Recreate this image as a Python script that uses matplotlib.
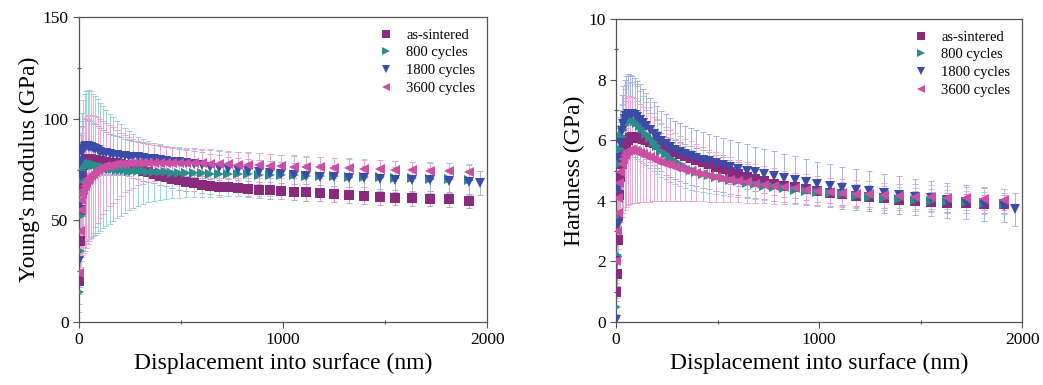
import matplotlib
matplotlib.use("Agg")
import matplotlib.pyplot as plt

plt.rcParams['font.family'] = ['Liberation Serif', 'DejaVu Serif']

# depth grid (nm)
depth = [2, 5, 8, 12, 17, 22, 28, 35, 42, 50,
         59, 69, 80, 92, 105, 119, 134, 150, 167, 185,
         204, 224, 245, 267, 290, 314, 340, 367, 396, 426,
         458, 491, 526, 563, 602, 643, 686, 731, 778, 828,
         880, 935, 992, 1052, 1115, 1180, 1248, 1321, 1395, 1473,
         1550, 1632, 1722, 1812, 1910]
depth_1800 = depth + [1967]

labels = ['as-sintered', '800 cycles', '1800 cycles', '3600 cycles']

# Young's modulus (GPa)
E_sint = [20, 40, 55, 66, 73, 77, 79, 80, 80, 80,
          80, 79.8, 79.5, 79.3, 79, 78.8, 78.6, 78.4, 78.2, 78,
          77.6, 77.2, 76.6, 76, 75.2, 74.4, 73.6, 72.8, 72, 71.2,
          70.4, 69.6, 68.9, 68.2, 67.6, 67.0, 66.6, 66.2, 65.8, 65.5,
          65.1, 64.7, 64.3, 64.0, 63.7, 63.5, 62.8, 62.5, 62.2, 61.6,
          61.2, 60.8, 60.6, 60.3, 59.6]
E_sint_err = [6, 7, 8, 8, 8, 8, 8, 8, 7.5, 7.5,
              7, 7, 7, 6.5, 6.5, 6, 6, 6, 5.5, 5.5,
              5.5, 5, 5, 5, 5, 5, 4.5, 4.5, 4.5, 4.5,
              4.5, 4.5, 4.5, 4, 4, 4, 4, 4, 4, 4,
              4, 4, 4, 4, 4, 4, 4, 4, 4, 4,
              3.8, 3.8, 3.6, 3.6, 3.5]

E_800 = [15, 35, 52, 63, 70, 74, 76, 77, 77.5, 77.5,
         77.5, 77.2, 77, 76.6, 76.3, 76, 75.7, 75.4, 75.2, 75,
         74.8, 74.6, 74.4, 74.3, 74.2, 74.1, 74, 73.9, 73.8, 73.6,
         73.5, 73.4, 73.3, 73.2, 73.1, 73, 72.9, 72.8, 72.7, 72.6,
         72.5, 72.4, 72.3, 72.2, 72.0, 71.9, 71.7, 71.5, 71.3, 71.1,
         70.9, 70.7, 70.5, 70.2, 70.0]
E_800_err = [10, 18, 25, 30, 33, 35, 36, 36.5, 36.5, 36.5,
             36, 35, 34, 33, 31.5, 30, 28.5, 27, 25.5, 24,
             22.5, 21, 19.5, 18, 17, 16, 15, 14.2, 13.6, 13,
             12.6, 12.2, 12, 11.8, 11.6, 11.4, 11.2, 11, 10.8, 10.6,
             10.4, 10.2, 10, 9.8, 9.6, 9.4, 9.2, 9, 8.8, 8.6,
             8.4, 8.2, 8, 7.8, 7.6]

E_1800 = [30, 58, 72, 79, 83, 85, 86, 86.5, 86.5, 86.3,
          86, 85.5, 85, 84.4, 83.8, 83.3, 82.9, 82.5, 82.2, 82,
          81.8, 81.6, 81.4, 81.2, 81, 80.7, 80.4, 80.1, 79.7, 79.3,
          78.9, 78.5, 78.1, 77.6, 77.1, 76.4, 75.8, 75.2, 74.7, 74.2,
          73.8, 73.2, 72.6, 72.2, 71.8, 71.5, 71.2, 70.9, 70.6, 70.3,
          70.0, 69.8, 69.6, 69.3, 69.0, 68.5]
E_1800_err = [8, 10, 12, 13, 13.5, 14, 14, 13.8, 13.5, 13.2,
              13, 12.6, 12.2, 11.8, 11.4, 11, 10.6, 10.2, 9.8, 9.4,
              9, 8.6, 8.3, 8, 7.7, 7.4, 7.2, 7, 6.8, 6.6,
              6.5, 6.5, 6.4, 6.4, 6.3, 6.3, 6.2, 6.2, 6.2, 6.1,
              6.1, 6.1, 6, 6, 6, 6, 6, 6, 6, 6,
              6, 6, 6, 6, 6, 6]

E_3600 = [24, 45, 55, 60, 63, 65, 67, 68.5, 70, 71,
          72, 73, 74, 74.8, 75.5, 76, 76.5, 76.9, 77.2, 77.5,
          77.7, 77.9, 78.0, 78.1, 78.2, 78.2, 78.3, 78.3, 78.3, 78.3,
          78.3, 78.2, 78.2, 78.1, 78.0, 77.9, 77.8, 77.6, 77.4, 77.2,
          77.0, 76.8, 76.6, 76.4, 76.2, 76.0, 75.8, 75.6, 75.4, 75.2,
          75.0, 74.7, 74.4, 74.1, 73.6]
E_3600_err = [15, 20, 25, 28, 30, 31, 32, 32, 31.5, 31,
              30, 29, 27.5, 26, 24.5, 23, 21.5, 20, 18.5, 17,
              15.5, 14.2, 13, 12, 11, 10.2, 9.5, 9, 8.6, 8.3,
              8, 7.8, 7.6, 7.4, 7.2, 7, 6.8, 6.6, 6.4, 6.2,
              6, 5.8, 5.6, 5.4, 5.2, 5, 4.8, 4.6, 4.4, 4.3,
              4.2, 4.1, 4, 3.9, 3.8]

# Hardness (GPa)
H_sint = [1.0, 1.6, 2.7, 3.5, 4.2, 4.8, 5.2, 5.5, 5.75, 5.9,
          6.0, 6.08, 6.12, 6.12, 6.1, 6.08, 6.05, 6.0, 5.95, 5.9,
          5.84, 5.78, 5.72, 5.66, 5.6, 5.54, 5.48, 5.42, 5.35, 5.28,
          5.2, 5.12, 5.04, 4.96, 4.88, 4.8, 4.72, 4.64, 4.57, 4.5,
          4.44, 4.38, 4.32, 4.27, 4.22, 4.17, 4.12, 4.08, 4.04, 4.0,
          3.97, 3.94, 3.92, 3.9, 3.9]
H_sint_err = [0.3, 0.4, 0.5, 0.5, 0.5, 0.5, 0.5, 0.5, 0.5, 0.5,
              0.5, 0.5, 0.5, 0.5, 0.5, 0.5, 0.45, 0.45, 0.45, 0.45,
              0.45, 0.45, 0.4, 0.4, 0.4, 0.4, 0.4, 0.4, 0.4, 0.4,
              0.4, 0.4, 0.4, 0.4, 0.4, 0.4, 0.38, 0.38, 0.38, 0.36,
              0.36, 0.36, 0.35, 0.35, 0.35, 0.34, 0.34, 0.33, 0.33, 0.32,
              0.32, 0.31, 0.31, 0.3, 0.3]

H_800 = [0.5, 2.2, 3.5, 4.4, 5.2, 5.7, 6.1, 6.35, 6.5, 6.6,
         6.65, 6.68, 6.68, 6.65, 6.58, 6.48, 6.36, 6.22, 6.08, 5.94,
         5.8, 5.66, 5.53, 5.41, 5.3, 5.2, 5.11, 5.03, 4.96, 4.9,
         4.84, 4.79, 4.74, 4.69, 4.64, 4.59, 4.54, 4.49, 4.45, 4.41,
         4.37, 4.33, 4.29, 4.25, 4.21, 4.17, 4.13, 4.1, 4.07, 4.04,
         4.01, 3.98, 3.95, 3.92, 3.9]
H_800_err = [0.3, 0.5, 0.7, 0.85, 0.95, 1.05, 1.1, 1.15, 1.2, 1.22,
             1.25, 1.25, 1.24, 1.22, 1.2, 1.15, 1.1, 1.05, 1.0, 0.95,
             0.9, 0.86, 0.82, 0.78, 0.75, 0.72, 0.69, 0.66, 0.63, 0.6,
             0.58, 0.56, 0.54, 0.52, 0.5, 0.49, 0.48, 0.47, 0.46, 0.45,
             0.44, 0.43, 0.42, 0.41, 0.4, 0.4, 0.39, 0.39, 0.38, 0.38,
             0.37, 0.37, 0.36, 0.36, 0.35]

H_1800 = [0.05, 2.0, 3.2, 4.4, 5.4, 5.9, 6.3, 6.55, 6.7, 6.8,
          6.85, 6.86, 6.85, 6.82, 6.76, 6.68, 6.58, 6.46, 6.34, 6.22,
          6.1, 5.98, 5.86, 5.76, 5.68, 5.6, 5.53, 5.47, 5.41, 5.35,
          5.3, 5.24, 5.18, 5.12, 5.06, 5.0, 4.94, 4.88, 4.82, 4.76,
          4.7, 4.63, 4.56, 4.49, 4.43, 4.37, 4.31, 4.25, 4.19, 4.13,
          4.08, 4.02, 3.96, 3.9, 3.84, 3.72]
H_1800_err = [0.2, 0.4, 0.6, 0.85, 1.0, 1.1, 1.2, 1.25, 1.3, 1.32,
              1.32, 1.3, 1.27, 1.24, 1.2, 1.16, 1.12, 1.09, 1.06, 1.04,
              1.02, 1.0, 1.0, 0.98, 0.97, 0.96, 0.95, 0.94, 0.93, 0.92,
              0.91, 0.9, 0.9, 0.89, 0.88, 0.87, 0.85, 0.83, 0.81, 0.79,
              0.77, 0.75, 0.73, 0.71, 0.7, 0.68, 0.66, 0.64, 0.62, 0.6,
              0.59, 0.58, 0.57, 0.56, 0.55, 0.55]

H_3600 = [2.0, 3.0, 3.6, 4.1, 4.6, 4.95, 5.2, 5.38, 5.5, 5.6,
          5.65, 5.68, 5.68, 5.66, 5.62, 5.58, 5.53, 5.48, 5.43, 5.38,
          5.33, 5.28, 5.23, 5.18, 5.13, 5.08, 5.03, 4.98, 4.93, 4.88,
          4.83, 4.78, 4.73, 4.69, 4.65, 4.61, 4.57, 4.53, 4.49, 4.45,
          4.41, 4.37, 4.33, 4.3, 4.27, 4.24, 4.21, 4.18, 4.16, 4.14,
          4.12, 4.1, 4.08, 4.06, 4.04]
H_3600_err = [0.6, 1.0, 1.2, 1.4, 1.55, 1.65, 1.72, 1.78, 1.8, 1.8,
              1.8, 1.78, 1.75, 1.72, 1.68, 1.63, 1.58, 1.52, 1.46, 1.4,
              1.34, 1.28, 1.22, 1.17, 1.12, 1.07, 1.02, 0.98, 0.94, 0.9,
              0.86, 0.82, 0.78, 0.74, 0.7, 0.67, 0.64, 0.61, 0.58, 0.55,
              0.52, 0.5, 0.48, 0.46, 0.45, 0.44, 0.43, 0.42, 0.41, 0.4,
              0.39, 0.38, 0.37, 0.36, 0.35]

colores = ['#8a2a7c', '#2a8c8c', '#3a4ca8', '#cc4fa6']
colores_err = ['#c9a0c4', '#9fd3d3', '#a9b2dc', '#e8a8d6']
marcadores = ['s', '>', 'v', '<']


def panel(ax, xs, ys, errs, ylim, yticks, yminor, ylabel):
    for x, y, e, ce in zip(xs, ys, errs, colores_err):
        ax.errorbar(x, y, yerr=e, fmt='none', ecolor=ce, elinewidth=0.7,
                    capsize=2.5, capthick=0.7, zorder=1)
    for x, y, c, m, lab in zip(xs, ys, colores, marcadores, labels):
        ax.plot(x, y, linestyle='none', marker=m, color=c, markersize=7,
                markeredgewidth=0, label=lab, zorder=3)
    ax.set_xlim(0, 2000)
    ax.set_ylim(*ylim)
    ax.set_xticks([0, 1000, 2000])
    ax.set_xticks([500, 1500], minor=True)
    ax.set_yticks(yticks)
    ax.set_yticks(yminor, minor=True)
    ax.tick_params(which='major', direction='out', length=4, width=0.8,
                   labelsize=12.5, color='#555555')
    ax.tick_params(which='minor', direction='inout', length=3, width=0.8,
                   color='#555555')
    for s in ax.spines.values():
        s.set_color('#555555')
        s.set_linewidth(0.9)
    ax.set_xlabel('Displacement into surface (nm)', fontsize=17, labelpad=3)
    ax.set_ylabel(ylabel, fontsize=17, labelpad=2)
    ax.legend(loc='upper right', frameon=False, fontsize=10.5,
              handletextpad=0.8, labelspacing=0.3, borderaxespad=0.4,
              markerscale=0.75, handlelength=1.2)


fig = plt.figure(figsize=(10.43, 3.85), dpi=100)
ax1 = fig.add_axes([0.0757, 0.1636, 0.3913, 0.7922])
ax2 = fig.add_axes([0.5906, 0.1636, 0.3894, 0.7870])

panel(ax1, [depth, depth, depth_1800, depth],
      [E_sint, E_800, E_1800, E_3600],
      [E_sint_err, E_800_err, E_1800_err, E_3600_err],
      (0, 150), [0, 50, 100, 150], [25, 75, 125], "Young's modulus (GPa)")

panel(ax2, [depth, depth, depth_1800, depth],
      [H_sint, H_800, H_1800, H_3600],
      [H_sint_err, H_800_err, H_1800_err, H_3600_err],
      (0, 10), [0, 2, 4, 6, 8, 10], [1, 3, 5, 7, 9], 'Hardness (GPa)')

fig.savefig('out.png', dpi=100)
